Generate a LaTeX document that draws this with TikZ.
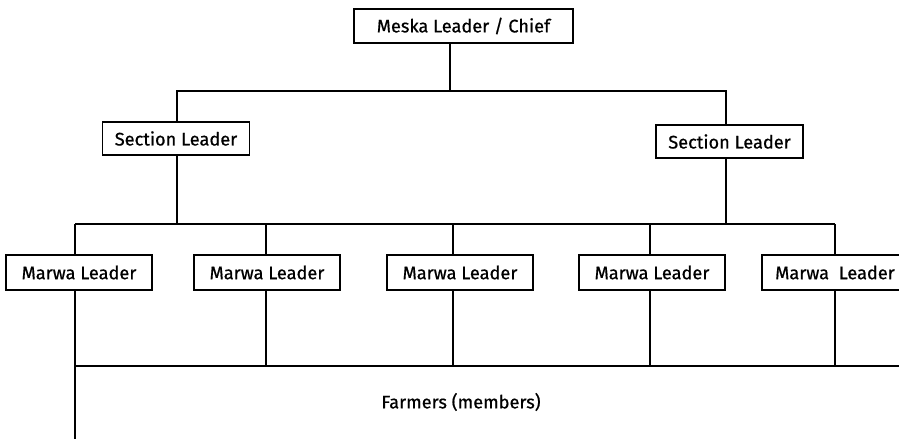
\documentclass[tikz,border=0pt]{standalone}
\usepackage{fontspec}
\setmainfont{Fira Sans}[FakeBold=0.7]
\begin{document}
\begin{tikzpicture}[x=0.5pt,y=-0.5pt,
  line width=0.85pt,
  box/.style={draw, line width=0.85pt, inner sep=0pt, font=\fontsize{9.1}{10}\selectfont},
  chief/.style={box, minimum width=109.5pt, minimum height=17pt},
  secbox/.style={box, minimum width=73.5pt, minimum height=16.5pt},
  marbox/.style={box, minimum width=73pt, minimum height=17.5pt},
  label/.style={font=\fontsize{9.1}{10}\selectfont, inner sep=0pt}]
\useasboundingbox (0,0) rectangle (899,439);
\clip (0,0) rectangle (899,439);

% leaders
\node[chief]  (meska) at (463.5,26) {Meska Leader / Chief};
\node[secbox] (secL)  at (176,138.5) {Section Leader};
\node[secbox] (secR)  at (729.5,141.5) {Section Leader};
\node[marbox] (m1) at (79,272.5)  {Marwa Leader};
\node[marbox] (m2) at (267,272.5) {Marwa Leader};
\node[marbox] (m3) at (460,272.5) {Marwa Leader};
\node[marbox] (m4) at (652,272.5) {Marwa Leader};
\node[marbox] (m5) at (835,272.5) {Marwa\ \ Leader};
\node[label]  (farm) at (461,402) {Farmers (members)};

% junction points on the connecting bars
\coordinate (j0) at (450,91);
\coordinate (t1) at (75,224);
\coordinate (t2) at (266,224);
\coordinate (t3) at (453,224);
\coordinate (t4) at (650,224);
\coordinate (t5) at (835,224);
\coordinate (sL) at (177,224);
\coordinate (sR) at (726,224);
\coordinate (b1) at (75,366);
\coordinate (bEnd) at (899,366);
\coordinate (bottom) at (75,439);

% chief to section leaders
\draw (meska.south -| j0) -- (j0);
\draw (secL.north -| sL) |- (j0) -| (secR.north -| sR);

% section leaders to marwa bar
\draw (secL.south -| sL) -- (sL);
\draw (secR.south -| sR) -- (sR);
\draw (t1) -- (t5);

% marwa bar to marwa leaders
\foreach \i in {1,...,5}
  \draw (t\i) -- (t\i |- m\i.north);

% marwa leaders to farmers bar
\foreach \i in {2,...,5}
  \draw (m\i.south -| t\i) -- (t\i |- b1);
\draw (m1.south -| t1) -- (bottom);
\draw (b1) -- (bEnd);
\end{tikzpicture}
\end{document}
